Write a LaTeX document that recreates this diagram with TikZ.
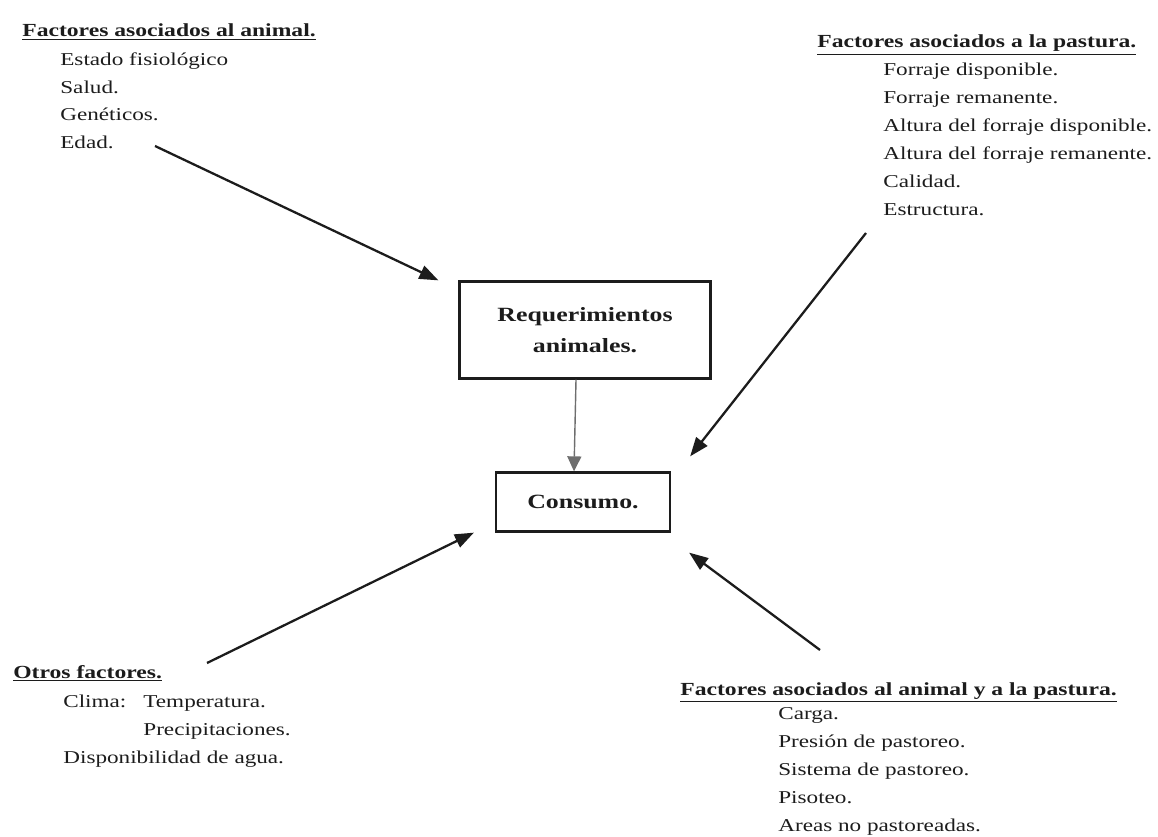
\documentclass[tikz,border=0pt]{standalone}
\usepackage{fontspec}
\setmainfont{Liberation Serif}[FakeStretch=1.28]
\usepackage{tikz}
\usetikzlibrary{arrows.meta,positioning}
\definecolor{ctinta}{HTML}{1C1C1C}
\definecolor{cgris}{HTML}{6E6E6E}

\begin{document}
\begin{tikzpicture}[
    x=0.02cm, y=-0.02cm,
    caja/.style={draw=ctinta, line width=1.3pt, align=center, inner sep=0pt, text=ctinta,
                 font=\fontsize{11.5}{18}\selectfont\bfseries},
    titulo/.style={anchor=base west, inner sep=0pt, text=ctinta,
                   font=\fontsize{10.5}{15.9}\selectfont\bfseries},
    lista/.style={align=left, inner sep=0pt, text=ctinta,
                  font=\fontsize{10.3}{15.9}\selectfont},
    flecha/.style={-{Triangle[length=3.8mm,width=2.8mm]}, line width=1.3pt, draw=ctinta},
    fina/.style={-{Triangle[length=3mm,width=2.8mm]}, line width=0.8pt, draw=cgris}
]
\useasboundingbox (0,0) rectangle (1158,837);

\node[caja, minimum width=5.02cm, minimum height=1.94cm] (req) at (585,330) {Requerimientos\\animales.};
\node[caja, minimum width=3.48cm, minimum height=1.18cm] (cons) at (583,502) {Consumo.};

\node[titulo] (tAnimal) at (22,37) {\underline{Factores asociados al animal.}};
\node[lista, below right=3mm and 7.6mm of tAnimal.base west] (lAnimal)
    {Estado fisiológico\\Salud.\\Genéticos.\\Edad.};

\node[titulo] (tPastura) at (817,48) {\underline{Factores asociados a la pastura.}};
\node[lista, below right=3mm and 13.2mm of tPastura.base west] (lPastura)
    {Forraje disponible.\\Forraje remanente.\\Altura del forraje disponible.\\Altura del forraje remanente.\\Calidad.\\Estructura.};

\node[titulo] (tOtros) at (13,678) {\underline{Otros factores.}};
\node[lista, below right=3.3mm and 10mm of tOtros.base west] (lOtros)
    {Clima:\hspace{0.34cm}Temperatura.\\\hphantom{Clima:\hspace{0.34cm}}Precipitaciones.\\Disponibilidad de agua.};

\node[titulo] (tMixto) at (680,695) {\underline{Factores asociados al animal y a la pastura.}};
\node[lista, below right=2.5mm and 19.6mm of tMixto.base west] (lMixto)
    {Carga.\\Presión de pastoreo.\\Sistema de pastoreo.\\Pisoteo.\\Areas no pastoreadas.};

\coordinate (aAnimal) at (155,146);
\coordinate (aPastura) at (866,233);
\coordinate (aOtros) at (207,663);
\coordinate (aMixto) at (820,650);

\draw[fina] ([xshift=-1.8mm]req.south) -- ([xshift=-1.8mm]cons.north);
\draw[flecha] (aAnimal) -- ([xshift=-4mm]req.north west);
\draw[flecha] (aPastura) -- ([xshift=3.8mm,yshift=3mm]cons.north east);
\draw[flecha] (aOtros) -- ([xshift=-4.2mm]cons.south west);
\draw[flecha] (aMixto) -- ([xshift=3.6mm,yshift=-4mm]cons.south east);
\end{tikzpicture}
\end{document}
